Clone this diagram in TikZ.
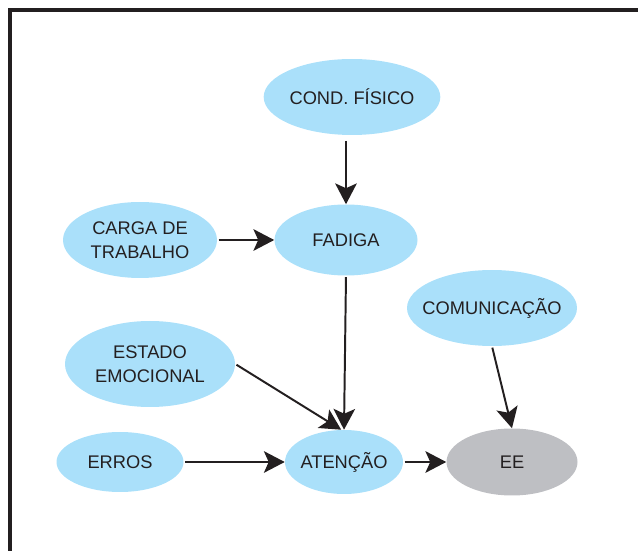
\documentclass[tikz,border=0pt]{standalone}
\usepackage{fontspec}
\setmainfont{Liberation Sans}
\usetikzlibrary{shapes.geometric,arrows.meta}
\definecolor{bolha}{RGB}{170,224,250}
\definecolor{cinza}{RGB}{190,191,195}
\definecolor{tinta}{RGB}{35,31,32}
\begin{document}
\begin{tikzpicture}[
    bubble/.style={ellipse, fill=bolha, inner sep=0pt, align=center, text=tinta, font=\fontsize{13}{17}\selectfont},
    arrow/.style={-{Stealth[length=0.52cm, width=0.54cm, inset=0.12cm]}, line width=1.4pt, draw=tinta, shorten <=1pt}
]
\useasboundingbox (0,0) rectangle (15.95,-13.775);
\draw[line width=2.2pt, draw=tinta] (0.25,-13.9) -- (0.25,-0.25) -- (16.1,-0.25);

\node[bubble, minimum width=4.4cm, minimum height=1.9cm] (fisico) at (8.8,-2.425) {COND. FÍSICO};
\node[bubble, minimum width=3.575cm, minimum height=1.775cm] (fadiga) at (8.65,-6.0) {FADIGA};
\node[bubble, minimum width=3.85cm, minimum height=1.9cm] (carga) at (3.5,-6.0) {CARGA DE\\TRABALHO};
\node[bubble, minimum width=4.25cm, minimum height=1.9cm, inner xsep=-4mm] (comunic) at (12.3,-7.7) {COMUNICAÇÃO};
\node[bubble, minimum width=4.25cm, minimum height=2.15cm] (emocao) at (3.75,-9.1) {ESTADO\\EMOCIONAL};
\node[bubble, minimum width=3.175cm, minimum height=1.5cm] (erros) at (3.0,-11.55) {ERROS};
\node[bubble, minimum width=2.95cm, minimum height=1.6cm, inner xsep=-3mm] (atencao) at (8.6,-11.55) {ATENÇÃO};
\node[bubble, fill=cinza, minimum width=3.275cm, minimum height=1.675cm] (ee) at (12.8,-11.55) {EE};

\draw[arrow, shorten <=4pt] (fisico.south -| fadiga.north) -- (fadiga.north);
\draw[arrow] (carga) -- (fadiga);
\draw[arrow] (fadiga.south) -- (atencao.north);
\draw[arrow] (emocao.east) -- ([xshift=-2pt]atencao.north);
\draw[arrow] (erros) -- (atencao);
\draw[arrow] (atencao) -- (ee);
\draw[arrow] (comunic.south) -- (ee.north);
\end{tikzpicture}
\end{document}
